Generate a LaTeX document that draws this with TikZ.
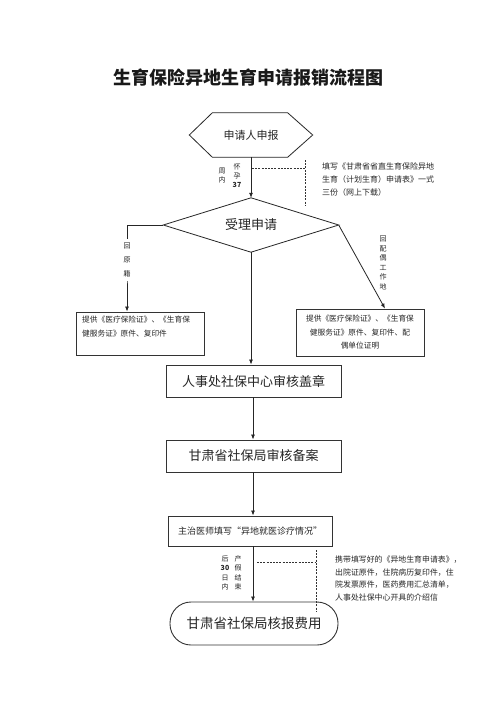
\documentclass[tikz,border=0pt]{standalone}
\usepackage{fontspec}
\setmainfont{Noto Sans CJK SC}
\usetikzlibrary{arrows.meta}
\begin{document}
\begin{tikzpicture}[x=1pt,y=-1pt,
  line/.style={draw=black!85, line width=0.8pt},
  arr/.style={line, -{Latex[length=5pt,width=4pt]}},
  dashline/.style={draw=black!80, line width=0.7pt, dash pattern=on 2pt off 1.2pt},
  box/.style={draw=black!80, line width=0.9pt, inner sep=0pt, align=center, text=black!85},
  note/.style={inner sep=0pt, align=left, anchor=north west, text=black!85},
  vlab/.style={inner sep=0pt, align=center, text=black!85}
]
\useasboundingbox (0,0) rectangle (500,707);
\fill[white] (0,0) rectangle (500,707);

% title
\node[inner sep=0pt, text=black!90] (title) at (248.5,77.5) {\fontsize{18}{20}\selectfont\bfseries 生育保险异地生育申请报销流程图};

% hexagon
\node[inner sep=0pt, minimum width=123pt, minimum height=44pt, text=black!85, font=\fontsize{11}{13}\selectfont] (hex) at (251,135) {申请人申报};
\draw[line] (hex.west) -- ([xshift=23pt]hex.north west) -- ([xshift=-25pt]hex.north east) -- (hex.east) -- ([xshift=-25pt]hex.south east) -- ([xshift=23pt]hex.south west) -- cycle;

% diamond
\node[inner sep=0pt, minimum width=175pt, minimum height=54pt, text=black!85, font=\fontsize{13}{15}\selectfont] (dia) at (251,225) {受理申请};
\draw[line] (dia.west) -- (dia.north) -- (dia.east) -- (dia.south) -- cycle;

% boxes
\node[box, minimum width=128pt, minimum height=43pt] (lb) at (140,333.5) {};
\node[note, text width=120pt, font=\fontsize{7.7}{13.5}\selectfont] (lbt) at (82,316) {提供《医疗保险证》、《生育保\\健服务证》原件、复印件};
\node[box, minimum width=128pt, minimum height=47pt, font=\fontsize{7.7}{13.5}\selectfont] (rb) at (360,332.5) {提供《医疗保险证》、《生育保\\健服务证》原件、复印件、配\\偶单位证明};
\node[box, minimum width=175pt, minimum height=32pt, font=\fontsize{13}{15}\selectfont] (b2) at (253.5,381) {人事处社保中心审核盖章};
\node[box, minimum width=175pt, minimum height=32pt, font=\fontsize{13}{15}\selectfont] (b3) at (253.5,456) {甘肃省社保局审核备案};
\node[box, minimum width=164pt, minimum height=30pt, font=\fontsize{9}{11}\selectfont] (b4) at (250,531) {主治医师填写“异地就医诊疗情况”};
\node[box, minimum width=168pt, minimum height=43pt, rounded corners=21pt, font=\fontsize{13.5}{16}\selectfont] (b5) at (254,623.5) {甘肃省社保局核报费用};

% main connectors
\draw[arr] (hex.south) -- (dia.north);
\draw[arr] (dia.south) -- (dia.south |- b2.north);
\draw[arr] (b2.south -| 253,0) -- (b3.north -| 253,0);
\draw[arr] (b3.south -| 253,0) -- (b4.north -| 253,0);
\draw[arr] (b4.south -| 253,0) -- (b5.north -| 253,0);

% left branch
\node[vlab, fill=white, inner ysep=4pt, font=\fontsize{7}{14}\selectfont] (lab1) at (127,260) {回\\原\\籍};
\draw[arr] (dia.west) -| (lab1.center) -- (lab1 |- lb.north);
\node[vlab, fill=white, inner ysep=4pt, font=\fontsize{7}{14}\selectfont] at (127,260) {回\\原\\籍};

% right branch
\draw[arr] (dia.east) -- ([xshift=25pt]rb.north);
\node[vlab, font=\fontsize{7}{9.5}\selectfont] (lab2) at (383,263) {回\\配\\偶\\工\\作\\地};

% top labels
\node[vlab, font=\fontsize{7}{9}\selectfont] (lab3) at (237,176) {怀\\孕\\\textbf{37}};
\node[vlab, font=\fontsize{7}{9}\selectfont] (lab4) at (222,176) {周\\内};
\coordinate (t1) at (252,168);
\coordinate (t2) at (305,168);
\coordinate (t3) at (305,160);
\coordinate (t4) at (305,205);
\draw[dashline] (t1) -- (t2);
\draw[dashline] (t3) -- (t4);
\node[note, font=\fontsize{8}{13}\selectfont] (n1) at (322,163) {填写《甘肃省省直生育保险异地\\生育（计划生育）申请表》一式\\三份（网上下载）};

% bottom labels
\node[vlab, font=\fontsize{7}{9.5}\selectfont] (lab5) at (238,573) {产\\假\\结\\束};
\node[vlab, font=\fontsize{7}{9.5}\selectfont] (lab6) at (225,573) {后\\\textbf{30}\\日\\内};
\coordinate (s1) at (257,562);
\coordinate (s2) at (316,562);
\coordinate (s3) at (316,550);
\coordinate (s4) at (316,612);
\draw[dashline] (s1) -- (s2);
\draw[dashline] (s3) -- (s4);
\node[note, font=\fontsize{7.9}{12.5}\selectfont] (n2) at (335,556) {携带填写好的《异地生育申请表》，\\出院证原件，住院病历复印件，住\\院发票原件，医药费用汇总清单，\\人事处社保中心开具的介绍信};
\end{tikzpicture}
\end{document}
